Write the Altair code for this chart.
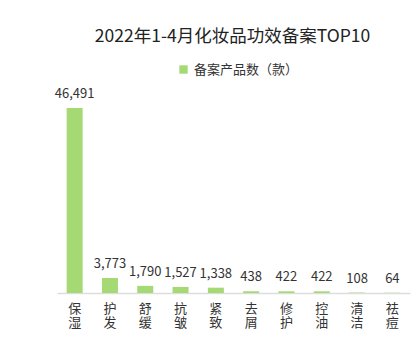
import altair as alt
import pandas as pd

categories = ["保湿", "护发", "舒缓", "抗皱", "紧致", "去屑", "修护", "控油", "清洁", "祛痘"]
values = [46491, 3773, 1790, 1527, 1338, 438, 422, 422, 108, 64]
series = ["备案产品数（款）"] * len(categories)

df = pd.DataFrame({"cat": categories, "val": values, "series": series})
FONT = "Noto Sans CJK SC"

base = alt.Chart(df).encode(
    x=alt.X("cat:N", sort=categories,
            scale=alt.Scale(paddingInner=0.5, paddingOuter=0.25),
            axis=alt.Axis(title=None, labelAngle=0, ticks=False, domainColor="#dddddd",
                          domainWidth=1.5, labelFont=FONT, labelFontSize=13, labelColor="#333333",
                          labelPadding=9, labelLineHeight=14.5,
                          labelExpr="split(datum.label, '')")),
    y=alt.Y("val:Q", scale=alt.Scale(domain=[0, 46491], nice=False), axis=None),
)

bars = base.mark_bar(size=16, color="#a5d974").encode(
    color=alt.Color("series:N", scale=alt.Scale(range=["#a5d974"]),
                    legend=alt.Legend(title=None, orient="none", legendX=120, legendY=-45,
                                      symbolType="square", symbolSize=70,
                                      labelFont=FONT, labelFontSize=13, labelColor="#333333"))
)

labels = base.mark_text(dy=-14, font=FONT, fontSize=13, color="#333333").encode(
    text=alt.Text("val:Q", format=",")
)

chart = (bars + labels).properties(
    width=353, height=185,
    title=alt.Title("2022年1-4月化妆品功效备案TOP10", font=FONT, fontSize=17.5,
                    fontWeight="normal", color="#222222", offset=18, anchor="middle", dx=-1),
    autosize=alt.AutoSizeParams(type="none"),
    padding={"left": 57, "top": 108, "right": 7, "bottom": 58},
).configure_view(stroke=None)

chart.save("out.html", embed_options={"renderer": "svg", "actions": False})
